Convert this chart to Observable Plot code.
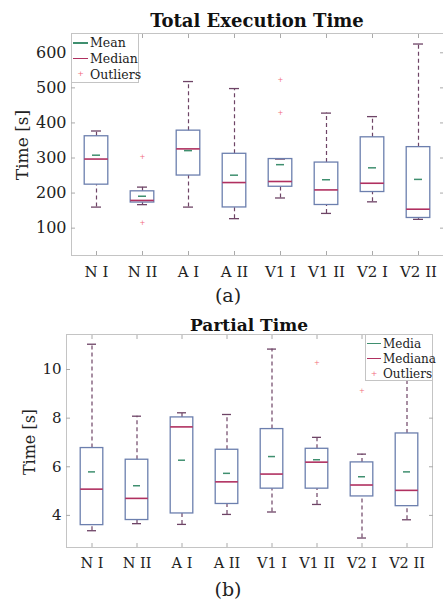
<!DOCTYPE html>
<html><head><meta charset="utf-8">
<script src="https://cdn.jsdelivr.net/npm/d3@7"></script>
<script src="https://cdn.jsdelivr.net/npm/@observablehq/plot@0.6"></script>
<style>
body{margin:0;background:#fff;font-family:"DejaVu Serif",serif;}
#wrap{position:relative;width:443px;height:604px;overflow:hidden;background:#fff;}
.abs{position:absolute;}
.title{font-weight:bold;color:#111;white-space:nowrap;transform:translate(-50%,-50%);}
.cap{font-size:19px;color:#222;white-space:nowrap;transform:translate(-50%,-50%);}
.ylab{color:#222;white-space:nowrap;transform:translate(-50%,-50%) rotate(-90deg);}
.leg{border:1px solid #c4c4c4;background:#fff;color:#222;box-sizing:border-box;}
.row{display:flex;align-items:center;white-space:nowrap;}
.sw{display:inline-block;position:relative;flex:none;}
.sw .ln{position:absolute;left:0;right:0;top:50%;height:1.6px;margin-top:-0.8px;}
.sw .pl{position:absolute;left:50%;top:50%;transform:translate(-50%,-52%);color:#f26d7d;font-size:8px;line-height:8px;}
</style></head>
<body><div id="wrap"></div>
<script>
const cats = ["N I","N II","A I","A II","V1 I","V1 II","V2 I","V2 II"];

// (a) Total Execution Time [s]
const totLow  = [160,167,160,127,186,142,175,125];
const totQ1   = [224,173,250,159,218,166,203,129];
const totMed  = [297,179,326,230,233,209,228,154];
const totQ3   = [362,205,378,312,297,287,359,331];
const totHigh = [377,217,518,498,297,428,418,625];
const totMean = [308,191,321,251,281,238,272,239];
const totOutCat = ["N II","N II","V1 I","V1 I"];
const totOutVal = [304,116,523,429];
const totTicks = [100,200,300,400,500,600];

// (b) Partial Time [s]
const parLow  = [3.37,3.66,3.63,4.04,4.14,4.45,3.07,3.82];
const parQ1   = [3.60,3.81,4.08,4.47,5.10,5.10,4.78,4.38];
const parMed  = [5.08,4.70,7.64,5.38,5.70,6.19,5.25,5.03];
const parQ3   = [6.77,6.29,8.03,6.70,7.55,6.74,6.18,7.37];
const parHigh = [11.04,8.08,8.22,8.15,10.84,7.21,6.52,9.70];
const parMean = [5.79,5.22,6.27,5.73,6.42,6.29,5.59,5.79];
const parOutCat = ["V1 II","V2 I"];
const parOutVal = [10.27,9.12];
const parTicks = [4,6,8,10];

const C = {box:"#6c7fae", med:"#b03060", mean:"#3f8f6f", wh:"#6e4466", out:"#f26d7d", frame:"#c4c4c4", text:"#222"};
const blank = () => "";

function boxChart(o){
  const data = cats.map((c,i)=>({cat:c, lo:o.lo[i], q1:o.q1[i], med:o.med[i], q3:o.q3[i], hi:o.hi[i], mean:o.mean[i]}));
  const outs = o.outCat.map((c,i)=>({cat:c, v:o.outVal[i]}));
  return Plot.plot({
    width:443, height:o.height,
    marginTop:o.mt, marginBottom:o.mb, marginLeft:o.ml, marginRight:o.mr,
    style:{fontFamily:"'DejaVu Serif', serif", color:C.text, background:"transparent"},
    x:{type:"band", domain:cats, padding:0, align:0.5},
    y:{domain:o.ydom},
    marks:[
      Plot.frame({stroke:C.frame}),
      Plot.axisX({tickSize:0, tickPadding:o.xpad, fontSize:o.xfs, label:null}),
      Plot.axisX({tickSize:-4, tickFormat:blank, stroke:"#aaa", label:null}),
      Plot.axisX({anchor:"top", tickSize:-4, tickFormat:blank, stroke:"#aaa", label:null}),
      Plot.axisY({ticks:o.ticks, tickSize:0, tickPadding:5, fontSize:o.yfs, label:null}),
      Plot.axisY({ticks:o.ticks, tickSize:-4, tickFormat:blank, stroke:"#aaa", label:null}),
      Plot.axisY({anchor:"right", ticks:o.ticks, tickSize:-4, tickFormat:blank, stroke:"#aaa", label:null}),
      Plot.ruleX(data,{x:"cat", y1:"lo", y2:"q1", stroke:C.wh, strokeWidth:1.2, strokeDasharray:"4,3"}),
      Plot.ruleX(data,{x:"cat", y1:"q3", y2:"hi", stroke:C.wh, strokeWidth:1.2, strokeDasharray:"4,3"}),
      Plot.tickY(data,{x:"cat", y:"lo", stroke:C.wh, strokeWidth:1.3, insetLeft:o.capInset, insetRight:o.capInset}),
      Plot.tickY(data,{x:"cat", y:"hi", stroke:C.wh, strokeWidth:1.3, insetLeft:o.capInset, insetRight:o.capInset}),
      Plot.barY(data,{x:"cat", y1:"q1", y2:"q3", fill:"white", fillOpacity:0, stroke:C.box, strokeWidth:1.3, insetLeft:o.boxInset, insetRight:o.boxInset}),
      Plot.tickY(data,{x:"cat", y:"med", stroke:C.med, strokeWidth:1.6, insetLeft:o.boxInset, insetRight:o.boxInset}),
      Plot.tickY(data,{x:"cat", y:"mean", stroke:C.mean, strokeWidth:1.5, insetLeft:o.meanInset, insetRight:o.meanInset}),
      Plot.text(outs,{x:"cat", y:"v", text:()=>"+", fill:C.out, fontSize:7})
    ]
  });
}

const wrap = document.getElementById("wrap");
function addDiv(cls, html, css){ const d=document.createElement("div"); d.className="abs "+cls; d.innerHTML=html; Object.assign(d.style, css); wrap.appendChild(d); return d; }

const p1 = boxChart({lo:totLow,q1:totQ1,med:totMed,q3:totQ3,hi:totHigh,mean:totMean,outCat:totOutCat,outVal:totOutVal,ticks:totTicks,
  height:285, mt:33, mb:30, ml:71, mr:0, ydom:[22,655], xpad:11, xfs:15, yfs:16, capInset:18, boxInset:11.2, meanInset:19});
p1.style.position="absolute"; p1.style.left="0px"; p1.style.top="0px";
wrap.appendChild(p1);

const p2 = boxChart({lo:parLow,q1:parQ1,med:parMed,q3:parQ3,hi:parHigh,mean:parMean,outCat:parOutCat,outVal:parOutVal,ticks:parTicks,
  height:275, mt:34, mb:28, ml:66, mr:11, ydom:[2.68,11.44], xpad:10.5, xfs:14.5, yfs:15, capInset:18, boxInset:11.2, meanInset:19});
p2.style.position="absolute"; p2.style.left="0px"; p2.style.top="300px";
wrap.appendChild(p2);

addDiv("title","Total Execution Time",{left:"257px",top:"20px",fontSize:"18px"});
addDiv("title","Partial Time",{left:"249px",top:"325px",fontSize:"17px"});
addDiv("cap","(a)",{left:"228px",top:"295px"});
addDiv("cap","(b)",{left:"228px",top:"589px"});
addDiv("ylab","Time [s]",{left:"22px",top:"145px",fontSize:"17px"});
addDiv("ylab","Time [s]",{left:"29px",top:"442px",fontSize:"16px"});

function legend(labels, css, fs, swW, rowH){
  const items = [["line",C.mean],["line",C.med],["plus",C.out]];
  let h = "";
  labels.forEach((t,i)=>{
    const [k,col] = items[i];
    const sw = k==="line" ? `<span class="ln" style="background:${col}"></span>` : `<span class="pl">+</span>`;
    h += `<div class="row" style="height:${rowH}px;font-size:${fs}px"><span class="sw" style="width:${swW}px;height:${rowH}px;margin-right:2px">${sw}</span><span>${t}</span></div>`;
  });
  return addDiv("leg", h, css);
}
const legMean = "Mean", legMedian = "Median", legOut = "Outliers";
const legMedia = "Media", legMediana = "Mediana";
legend([legMean,legMedian,legOut],{left:"71px",top:"33px",width:"68px",height:"50px",paddingTop:"1px",paddingLeft:"1px"},12.5,15,15.7);
legend([legMedia,legMediana,legOut],{left:"365px",top:"334px",width:"68px",height:"47px",paddingTop:"1px",paddingLeft:"1px"},12,14,15);
</script>
</body></html>
